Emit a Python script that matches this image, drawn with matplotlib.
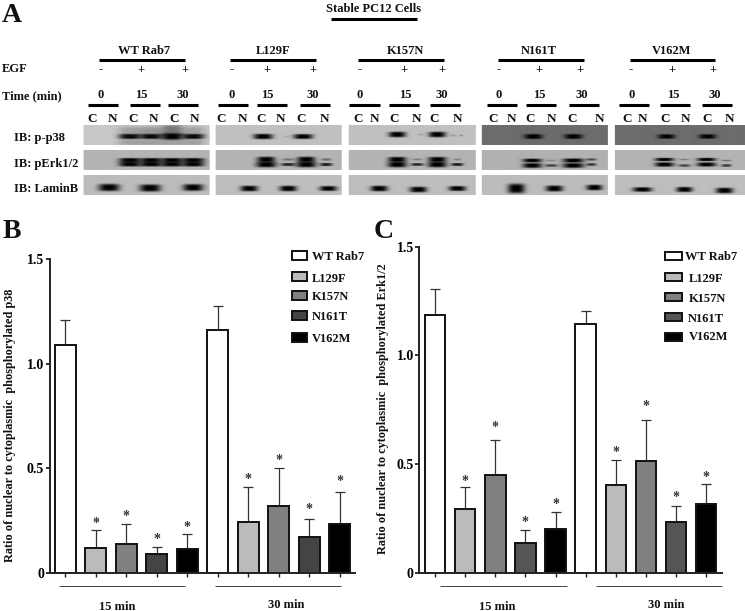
import numpy as np
import matplotlib
matplotlib.use("Agg")
import matplotlib.pyplot as plt
from matplotlib.patches import Rectangle

plt.rcParams['font.family'] = ['Liberation Serif', 'DejaVu Serif']
plt.rcParams['font.weight'] = 'bold'

W, H = 745, 611

# bar data
labels = ["WT Rab7", "L129F", "K157N", "N161T", "V162M"]
p38_vals = [1.09, 0.12, 0.14, 0.09, 0.115, 1.16, 0.245, 0.32, 0.17, 0.235]
p38_tops = [1.207, 0.204, 0.232, 0.124, 0.186, 1.277, 0.41, 0.50, 0.256, 0.388]
p38_stars = [None, 0.244, 0.279, 0.167, 0.223, None, 0.454, 0.545, 0.31, 0.446]
erk_vals = [1.185, 0.295, 0.449, 0.138, 0.204, 1.144, 0.403, 0.513, 0.236, 0.317]
erk_tops = [1.305, 0.395, 0.612, 0.198, 0.28, 1.205, 0.519, 0.704, 0.306, 0.409]
erk_stars = [None, 0.429, 0.674, 0.237, 0.322, None, 0.559, 0.77, 0.352, 0.444]
colors_b = ["#ffffff", "#bbbbbb", "#808080", "#444444", "#000000"]
colors_c = ["#ffffff", "#bbbbbb", "#808080", "#555555", "#000000"]

# blot panels, x range in pixels
panel_x = [(84, 210), (216, 342), (349, 476), (482, 608), (615, 745)]
row_y = [(126, 146), (151, 171), (176, 196)]
row_names = ["IB: p-p38", "IB: pErk1/2", "IB: LaminB"]
row_label_y = [136, 163, 188]
bg_gray = [[200, 192, 192, 108, 108],
           [180, 180, 180, 177, 180],
           [188, 190, 190, 188, 190]]

# bands: x, y, half width, half height, strength
bands = [
    # p-p38
    (130, 137, 11, 2.6, .95), (151, 137, 11, 2.6, .95), (172, 137, 11, 3.4, 1), (193, 137, 11, 2.6, .95),
    (130, 133, 12, 6, .2), (151, 133, 12, 6, .25), (172, 131, 11, 6, .4), (193, 133, 12, 6, .2),
    (130, 143, 12, 3, .2), (151, 143, 12, 3, .2), (172, 143, 12, 3, .2), (193, 143, 12, 3, .2),
    (263, 137, 9.5, 2.7, 1), (303, 137, 9.5, 2.5, 1), (286, 137, 3, 1, .12),
    (397, 135, 8.5, 2.8, 1), (437, 135, 8.5, 2.8, 1), (421, 135, 3, 1, .15), (453, 136, 3, 1, .2), (461, 136, 2, 1, .25),
    (533, 137, 9, 2.5, 1), (573, 137, 9, 2.5, 1),
    (666, 137, 8.5, 2.3, 1), (707, 137, 8.5, 2.3, 1),
    # pErk1/2
    (130, 160.7, 11, 2.2, 1), (151, 160.7, 11, 2.2, 1), (172, 160.7, 11, 2.2, 1), (193, 160.7, 11, 2.2, 1),
    (130, 164.6, 11, 2.4, 1), (151, 164.6, 11, 2.4, 1), (172, 164.6, 11, 2.4, 1), (193, 164.6, 11, 2.4, 1),
    (266, 160, 9, 2.8, 1), (266, 165, 10, 2.8, 1), (306, 160, 9, 2.8, 1), (306, 165, 10, 2.8, 1),
    (288, 160, 6, 1.2, .35), (288, 165, 7, 1.5, .8), (326, 160, 5, 1.2, .4), (326, 165, 6, 1.6, .85),
    (397, 160, 9, 2.6, 1), (397, 165, 9.5, 2.8, 1), (437, 160, 9, 2.6, 1), (437, 165, 9.5, 2.8, 1),
    (417, 160, 5, 1, .3), (417, 165, 6, 1.4, .8), (457, 160, 4, 1, .3), (457, 165, 6, 1.5, .85),
    (532, 161, 9.5, 1.9, 1), (532, 166, 9.5, 2.4, 1), (573, 161, 10.5, 2.1, 1), (573, 166, 10.5, 2.4, 1),
    (551, 161, 5, .9, .25), (551, 166, 6, 1.3, .65), (591, 160, 5, 1.1, .6), (591, 165, 5, 1.3, .7),
    (664, 160, 9.5, 1.7, 1), (664, 165, 9.5, 2.2, 1), (706, 160, 9.5, 1.7, 1), (706, 165, 9.5, 2.1, 1),
    (684, 160, 5, .9, .3), (684, 166, 6, 1.3, .6), (726, 161, 5, .9, .4), (726, 166, 5, 1.3, .7),
    # LaminB
    (109, 188, 10.5, 3.6, 1), (150, 188.5, 10.5, 3.6, 1), (193, 188, 10, 3.4, 1),
    (249, 189, 8.5, 2.8, 1), (288, 189, 8.5, 2.8, 1), (328, 189, 8.5, 2.5, 1),
    (379, 189, 8.5, 2.8, 1), (418, 190, 8.5, 2.8, 1), (457, 189, 8.5, 2.5, 1),
    (516, 189, 8.5, 4.8, 1), (554, 189, 8.5, 3, 1), (594, 188, 8, 2.8, 1),
    (642, 190, 9.5, 2.3, 1), (684, 190, 8, 2.6, 1), (724, 191, 8.5, 2.8, 1),
]

# header texts
group_x = [144, 273, 405, 539, 672]
group_lines = [(99, 185), (230, 316), (358, 444), (498, 584), (630, 715)]
egf_signs = ["-", "+", "+"]
egf_x = [[101, 141, 185], [232, 267, 313], [360, 404, 442], [499, 539, 580], [631, 672, 713]]
time_labels = ["0", "15", "30"]
time_x = [[101, 141, 183], [232, 267, 313], [360, 405, 442], [499, 539, 582], [632, 673, 715]]
short_lines = [[(88, 118), (130, 160), (168, 198)], [(218, 248), (257, 287), (300, 330)],
               [(349, 380), (389, 419), (430, 460)], [(487, 517), (526, 556), (569, 599)],
               [(619, 649), (660, 690), (702, 732)]]
cn_x = [[92, 112, 133, 153, 174, 194], [221, 242, 261, 280, 301, 324], [358, 374, 394, 416, 434, 457],
        [493, 511, 530, 551, 572, 599], [627, 642, 665, 685, 707, 729]]

fig = plt.figure(figsize=(W / 100, H / 100), dpi=100)

# overlay in pixel coordinates
ov = fig.add_axes([0, 0, 1, 1])
ov.set_xlim(0, W)
ov.set_ylim(H, 0)
ov.axis("off")


def txt(x, y, s, size=9, ha="center"):
    # centre of the caps sits about 1.5 px above the y asked for
    ov.text(x, y + 1.5, s, fontsize=size, ha=ha, va="center", color="#111111")


def hline(x0, x1, y, lw=2.2, c="black"):
    ov.plot([x0, x1], [y, y], color=c, lw=lw, solid_capstyle="butt")


# blots
yy, xx = np.mgrid[120:200, 0:W]
canvas = np.full(xx.shape, 255.0)
for r, (y0, y1) in enumerate(row_y):
    for p, (x0, x1) in enumerate(panel_x):
        canvas[(yy >= y0) & (yy < y1) & (xx >= x0) & (xx < x1)] = bg_gray[r][p]
light = np.ones(xx.shape)
for x, y, w, h, s in bands:
    light *= 1 - s * np.exp(-(np.abs((xx - x) / w) ** 3 + np.abs((yy - y) / h) ** 4))
inside = canvas < 255
canvas[inside] = (canvas * light)[inside]
ov.imshow(canvas, cmap="gray", vmin=0, vmax=255, extent=(-0.5, W - 0.5, 199.5, 119.5),
          interpolation="bilinear", aspect="auto", zorder=1)
ov.set_xlim(0, W)
ov.set_ylim(H, 0)

# panel letters
txt(12, 14, "A", size=20)
txt(12, 230, "B", size=20)
txt(384, 230, "C", size=20)

txt(374, 8, "Stable PC12 Cells")
hline(331, 417, 19)
txt(2, 68, "EGF", ha="left")
txt(2, 95, "Time (min)", ha="left")

for i in range(5):
    txt(group_x[i], 50, labels[i])
    hline(group_lines[i][0], group_lines[i][1], 60)
    for j in range(3):
        txt(egf_x[i][j], 68, egf_signs[j])
        txt(time_x[i][j], 94, time_labels[j])
        hline(short_lines[i][j][0], short_lines[i][j][1], 105)
    for j in range(6):
        txt(cn_x[i][j], 118, "CN"[j % 2], size=9.5)
for name, y in zip(row_names, row_label_y):
    txt(14, y, name, ha="left")


def bar_panel(box, centers0, step, vals, tops, stars, colors, ylabel, ylab_x, ylab_y, ylab_size):
    left, right, top, bottom = box
    ax = fig.add_axes([left / W, 1 - bottom / H, (right - left) / W, (bottom - top) / H])
    ax.patch.set_alpha(0)
    x = np.arange(10)
    cols = colors + colors
    errs = [t - v for t, v in zip(tops, vals)]
    ax.errorbar(x, vals, yerr=[[0] * 10, errs], fmt="none", ecolor="#333333", elinewidth=0.9,
                capsize=3.6, capthick=0.9, zorder=1)
    ax.bar(x, vals, width=0.68, color=cols, edgecolor="#111111", linewidth=1.4, zorder=2)
    for xi, s in zip(x, stars):
        if s is not None:
            ax.text(xi, s, "*", fontsize=10, ha="center", va="center_baseline", color="#333333")
    ax.set_xlim((left - centers0) / step, (right - centers0) / step)
    ax.set_ylim(0, 1.5)
    ax.set_xticks(x)
    ax.set_xticklabels([])
    ax.set_yticks([0, 0.5, 1.0, 1.5])
    ax.set_yticklabels(["0", "0.5", "1.0", "1.5"], fontsize=10, fontweight="bold")
    ax.tick_params(axis="x", length=3, width=1, color="#222222")
    ax.tick_params(axis="y", length=3, width=1.3, color="#222222", pad=1)
    ax.spines["top"].set_visible(False)
    ax.spines["right"].set_visible(False)
    ax.spines["left"].set_linewidth(1.4)
    ax.spines["bottom"].set_linewidth(1.4)
    ax.spines["left"].set_color("#222222")
    ax.spines["bottom"].set_color("#222222")
    ov.text(ylab_x, ylab_y, ylabel, rotation=90, fontsize=ylab_size, ha="center", va="center", color="#111111")
    return ax


bar_panel((49.5, 355, 259, 573), 65.3, 30.5, p38_vals, p38_tops, p38_stars, colors_b,
          "Ratio of nuclear to cytoplasmic  phosphorylated p38", 10, 425, 8.8)
bar_panel((419.3, 722, 246.7, 573), 435, 30.13, erk_vals, erk_tops, erk_stars, colors_c,
          "Ratio of nuclear to cytoplasmic  phosphorylated Erk1/2", 383, 409, 8.8)

# group lines under the bars
hline(59, 185, 586, lw=0.7, c="#444444")
hline(215, 341, 586, lw=0.7, c="#444444")
hline(440, 567, 586, lw=0.7, c="#444444")
hline(596, 722, 586, lw=0.7, c="#444444")
txt(117, 605, "15 min")
txt(286, 604, "30 min")
txt(497, 605, "15 min")
txt(666, 604, "30 min")

# hand placed legends, the spacing is uneven in the figure
legend_b_y = [255.5, 276.5, 295.5, 315.5, 337.5]
legend_b_txt = [256, 277, 296, 315, 338]
legend_c_y = [255.5, 277, 296.5, 317, 336.5]
legend_c_txt = [256, 278, 298, 317, 336]
legend_c_x = [685, 689, 689, 688, 689]
for i in range(5):
    ov.add_patch(Rectangle((292, legend_b_y[i] - 4.5), 15, 9, facecolor=colors_b[i], edgecolor="#111111", lw=1.4, zorder=3))
    txt(312, legend_b_txt[i], labels[i], size=9, ha="left")
    ov.add_patch(Rectangle((665, legend_c_y[i] - 4), 16.5, 8, facecolor=colors_c[i], edgecolor="#111111", lw=1.4, zorder=3))
    txt(legend_c_x[i], legend_c_txt[i], labels[i], size=9, ha="left")

fig.savefig("out.png", dpi=100)
